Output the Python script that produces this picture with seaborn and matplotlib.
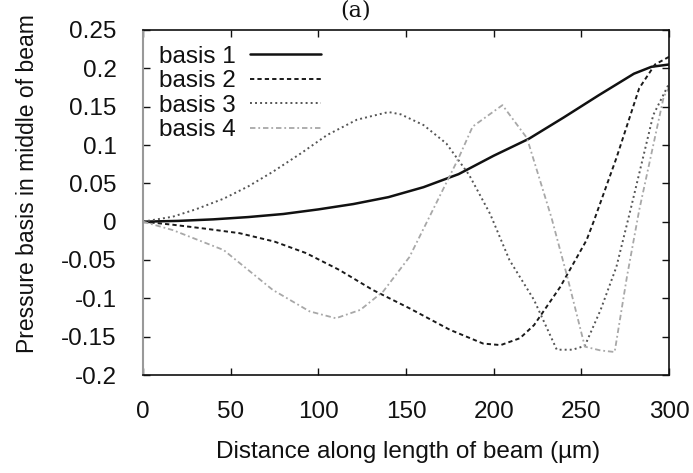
import numpy as np
import pandas as pd
import matplotlib
matplotlib.use("Agg")
import matplotlib.pyplot as plt
import seaborn as sns
from matplotlib.ticker import FuncFormatter

# ---- data ----
x1 = [0, 20, 40, 60, 80, 100, 120, 140, 160, 180, 200, 220, 240, 260, 280, 290, 300]
b1 = [0, 0.001, 0.003, 0.006, 0.010, 0.016, 0.023, 0.032, 0.045, 0.062, 0.086, 0.108,
      0.136, 0.165, 0.193, 0.202, 0.205]

x2 = [0, 17, 35, 55, 75, 93, 112, 131, 152, 175, 194, 204, 215, 223, 238, 253, 257, 270,
      283, 292, 300]
b2 = [0, -0.004, -0.009, -0.015, -0.026, -0.041, -0.063, -0.089, -0.113, -0.141, -0.159,
      -0.161, -0.152, -0.135, -0.085, -0.024, 0, 0.083, 0.174, 0.205, 0.215]

x3 = [0, 17, 30, 46, 60, 74, 90, 105, 122, 140, 147, 160, 173, 186, 198, 209, 223, 236,
      245, 252, 261, 270, 278, 291, 300]
b3 = [0, 0.0065, 0.016, 0.030, 0.046, 0.065, 0.089, 0.113, 0.133, 0.143, 0.140, 0.126,
      0.102, 0.061, 0.010, -0.050, -0.102, -0.167, -0.167, -0.162, -0.115, -0.059, 0.015,
      0.139, 0.180]

x4 = [0, 17, 46, 74, 95, 110, 124, 137, 152, 162, 180, 188, 205, 219, 233, 242, 252,
      261, 269, 276, 283, 297, 300]
b4 = [0, -0.011, -0.037, -0.089, -0.117, -0.126, -0.115, -0.091, -0.046, 0, 0.083, 0.124,
      0.152, 0.109, 0.005, -0.072, -0.163, -0.168, -0.170, -0.072, 0.015, 0.163, 0.175]

labels = ["basis 1", "basis 2", "basis 3", "basis 4"]
xticks = [0, 50, 100, 150, 200, 250, 300]
yticks = [-0.2, -0.15, -0.1, -0.05, 0, 0.05, 0.1, 0.15, 0.2, 0.25]

# ---- style ----
sns.set_theme(style="white")
plt.rcParams["font.family"] = ["Liberation Sans", "DejaVu Sans"]
plt.rcParams["axes.unicode_minus"] = False

FS = 17.5
fig = plt.figure(figsize=(6.93, 4.73), dpi=100)
ax = fig.add_axes([143 / 693, 1 - 375 / 473, 526 / 693, 345 / 473])

series = [(x1, b1), (x2, b2), (x3, b3), (x4, b4)]
styles = [
    dict(color="#111111", linewidth=1.8, linestyle="-"),
    dict(color="#1a1a1a", linewidth=1.4, linestyle=(0, (2.2, 1.6))),
    dict(color="#555555", linewidth=1.4, linestyle=(0, (1.0, 1.6))),
    dict(color="#a8a8a8", linewidth=1.3, linestyle=(0, (3.0, 1.6, 1.0, 1.6))),
]
for (xs, ys), lab, st in zip(series, labels, styles):
    df = pd.DataFrame({"x": xs, "y": ys})
    sns.lineplot(data=df, x="x", y="y", ax=ax, label=lab, sort=False, **st)

ax.set_xlim(0, 300)
ax.set_ylim(-0.2, 0.25)
ax.set_xticks(xticks)
ax.set_yticks(yticks)
ax.yaxis.set_major_formatter(FuncFormatter(lambda v, p: "%g" % round(v, 4)))
ax.tick_params(axis="both", which="both", direction="in", length=5, width=1,
               colors="#111111", labelsize=FS, top=True, right=True,
               bottom=True, left=True)
ax.tick_params(axis="y", pad=19)
ax.tick_params(axis="x", pad=19)

for side in ["top", "right", "bottom"]:
    ax.spines[side].set_color("#111111")
    ax.spines[side].set_linewidth(1.2)
ax.spines["left"].set_color("#999999")
ax.spines["left"].set_linewidth(1.5)

ax.set_xlabel("Distance along length of beam (\u00b5m)", fontsize=FS, color="#111111")
ax.set_ylabel("Pressure basis in middle of beam", fontsize=16.5, color="#111111")
ax.xaxis.set_label_coords(0.503, -0.19)
ax.yaxis.set_label_coords(-0.198, 0.555)

leg = ax.legend(loc="upper left", bbox_to_anchor=(0.0, 1.0), frameon=False,
                markerfirst=False, handlelength=2.9, handletextpad=0.6,
                labelspacing=0.1, fontsize=FS, borderaxespad=0.25)
for t in leg.get_texts():
    t.set_color("#111111")

fig.text(356 / 693, 1.0, "(a)", ha="center", va="top", fontsize=16,
         family="DejaVu Serif", color="#111111")

fig.savefig("out.png", dpi=100, facecolor="white")
